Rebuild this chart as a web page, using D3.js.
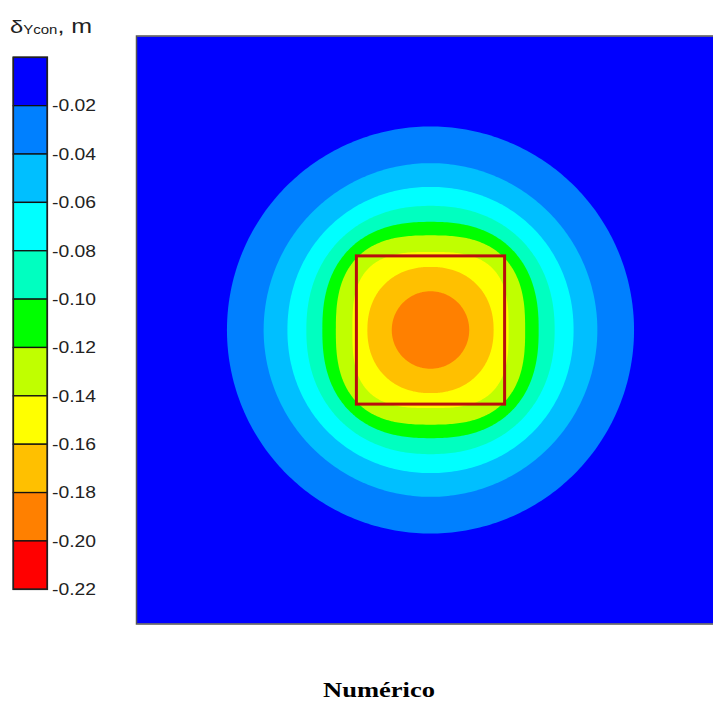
<!DOCTYPE html>
<html>
<head>
<meta charset="utf-8">
<script src="https://cdn.jsdelivr.net/npm/d3@7"></script>
<style>
  html, body { margin: 0; padding: 0; background: #fff; overflow: hidden; }
  svg { display: block; }
</style>
</head>
<body>
<svg id="chart" width="713" height="702"></svg>
<script>
// ---- data ----
const thresholds = [-0.20, -0.18, -0.16, -0.14, -0.12, -0.10, -0.08, -0.06, -0.04, -0.02];
const bandColors = ["#FF0000", "#FF8000", "#FFC000", "#FFFF00", "#C0FF00", "#00FF00",
                    "#00FFC0", "#00FFFF", "#00BFFF", "#0080FF", "#0000FF"];
const legendTicks = [-0.02, -0.04, -0.06, -0.08, -0.10, -0.12, -0.14, -0.16, -0.18, -0.20, -0.22];
const tickLabels = ["-0.02", "-0.04", "-0.06", "-0.08", "-0.10", "-0.12", "-0.14", "-0.16", "-0.18", "-0.20", "-0.22"];
// contour lines of settlement (m), radius along axes and along diagonal (m)
const contourLevels     = [-0.02, -0.04, -0.06, -0.08, -0.10, -0.12, -0.14, -0.16, -0.18];
const contourRadiusAxis = [13.87, 11.37, 9.75, 8.46, 7.37, 6.45, 5.32, 4.30, 2.64];
const contourRadiusDiag = [13.87, 11.37, 9.85, 8.71, 7.81, 7.03, 5.96, 4.42, 2.64];
// footing square (m)
const footingX = [-5.05, 5.05];
const footingY = [-5.05, 5.05];
const domainXY = [-20, 20];

const svg = d3.select("#chart");

const color = d3.scaleThreshold().domain(thresholds).range(bandColors);

const x = d3.scaleLinear().domain(domainXY).range([137, 724]);
const y = d3.scaleLinear().domain(domainXY).range([623.5, 36.5]);

// ---- plot ----
const plot = svg.append("g");
plot.append("rect")
  .attr("x", x(domainXY[0])).attr("y", y(domainXY[1]))
  .attr("width", x(domainXY[1]) - x(domainXY[0]))
  .attr("height", y(domainXY[0]) - y(domainXY[1]))
  .attr("fill", color(0));

const angles = d3.range(0, 360, 1).map(d => d * Math.PI / 180);
function shape(a, rd) {
  const n = 1 / (0.5 - Math.log2(rd / a));
  return angles.map(t => {
    const c = Math.cos(t), s = Math.sin(t);
    return [Math.sign(c) * a * Math.pow(Math.abs(c), 2 / n),
            Math.sign(s) * a * Math.pow(Math.abs(s), 2 / n)];
  });
}
const line = d3.line().x(d => x(d[0])).y(d => y(d[1])).curve(d3.curveLinearClosed);

plot.selectAll("path.band")
  .data(contourLevels.map((lv, i) => ({ lv, a: contourRadiusAxis[i], rd: contourRadiusDiag[i] })))
  .join("path")
  .attr("class", "band")
  .attr("d", d => line(shape(d.a, d.rd)))
  .attr("fill", d => color(d.lv - 1e-6));

// footing
plot.append("rect")
  .attr("x", x(footingX[0])).attr("y", y(footingY[1]))
  .attr("width", x(footingX[1]) - x(footingX[0]))
  .attr("height", y(footingY[0]) - y(footingY[1]))
  .attr("fill", "none").attr("stroke", "#B80E0E").attr("stroke-width", 3);

// plot border
plot.append("rect")
  .attr("x", x(domainXY[0]) - 0.5).attr("y", y(domainXY[1]) - 0.5)
  .attr("width", x(domainXY[1]) - x(domainXY[0]) + 1)
  .attr("height", y(domainXY[0]) - y(domainXY[1]) + 1)
  .attr("fill", "none").attr("stroke", "#555").attr("stroke-width", 1.5);

// ---- legend ----
const yL = d3.scaleLinear().domain([0, -0.22]).range([57.3, 589.3]);
const legX = 13.3, legW = 34;
const bandTops = [0].concat(legendTicks.slice(0, -1));
const leg = svg.append("g");
leg.selectAll("rect.sw")
  .data(bandTops.map((top, i) => ({ top, bot: legendTicks[i] })))
  .join("rect")
  .attr("class", "sw")
  .attr("x", legX).attr("width", legW)
  .attr("y", d => yL(d.top))
  .attr("height", d => yL(d.bot) - yL(d.top))
  .attr("fill", d => color((d.top + d.bot) / 2))
  .attr("stroke", "#111").attr("stroke-width", 1.3);
leg.append("rect")
  .attr("x", legX).attr("y", yL(0)).attr("width", legW)
  .attr("height", yL(-0.22) - yL(0))
  .attr("fill", "none").attr("stroke", "#222").attr("stroke-width", 1.6);

leg.selectAll("text.tl")
  .data(legendTicks.map((v, i) => ({ v, label: tickLabels[i] })))
  .join("text")
  .attr("class", "tl")
  .attr("x", 52).attr("y", d => yL(d.v))
  .attr("dy", "0.36em")
  .attr("font-family", "'Liberation Sans', Arial, sans-serif")
  .attr("font-size", 16)
  .attr("fill", "#222")
  .attr("textLength", 44).attr("lengthAdjust", "spacingAndGlyphs")
  .text(d => d.label);

// ---- title (colorbar) ----
const title = svg.append("text")
  .attr("transform", "translate(10,33) scale(1.25,1)")
  .attr("font-family", "'Liberation Sans', Arial, sans-serif")
  .attr("fill", "#222");
title.append("tspan").attr("font-size", 19).text("δ");
title.append("tspan").attr("font-size", 12).attr("dy", 1).text("Ycon");
title.append("tspan").attr("font-size", 20).attr("dy", -1).text(", m");

// ---- caption ----
svg.append("text")
  .attr("x", 379).attr("y", 697)
  .attr("text-anchor", "middle")
  .attr("font-family", "'Liberation Serif', 'Times New Roman', serif")
  .attr("font-weight", "bold")
  .attr("font-size", 21)
  .attr("fill", "#000")
  .attr("textLength", 112).attr("lengthAdjust", "spacingAndGlyphs")
  .text("Numérico");
</script>
</body>
</html>
